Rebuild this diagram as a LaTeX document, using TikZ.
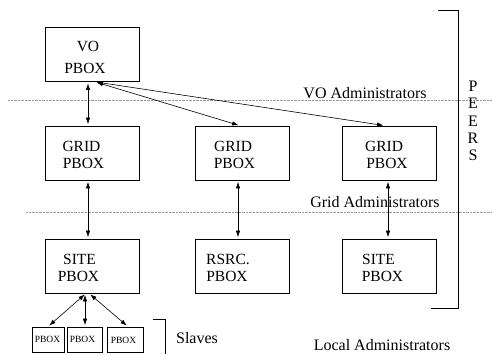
\documentclass[tikz,border=0pt]{standalone}
\usepackage{fontspec}
\setmainfont{Liberation Serif}
\usetikzlibrary{arrows.meta,positioning}
\begin{document}
\begin{tikzpicture}[x=1pt,y=-1pt,
  pbox/.style={draw,line width=0.7pt,minimum width=94pt,minimum height=54pt,inner sep=0pt},
  sbox/.style={draw,line width=0.7pt,minimum height=25pt,inner sep=0pt},
  btxt/.style={font=\fontsize{15.5}{16}\selectfont,inner sep=0pt,anchor=base},
  stxt/.style={font=\fontsize{9.5}{10}\selectfont,inner sep=0pt,anchor=base},
  ltxt/.style={font=\fontsize{16}{17}\selectfont,inner sep=0pt,anchor=base},
  dline/.style={gray!80,line width=0.6pt,dash pattern=on 0.6pt off 0.8pt},
  link/.style={{Latex[length=6.5pt,width=4.4pt]}-{Latex[length=6.5pt,width=4.4pt]},line width=0.6pt,shorten <=1.5pt,shorten >=1.5pt},
  brk/.style={line width=0.7pt}]
\useasboundingbox (0,0) rectangle (492,354);
% boxes
\node[pbox] (vo) at (92,54.5) {};
\node[pbox] (gridL) at (92,153) {};
\node[pbox] (gridM) at (242.5,153) {};
\node[pbox] (gridR) at (389,153) {};
\node[pbox] (siteL) at (92,266) {};
\node[pbox] (rsrc) at (242.5,266) {};
\node[pbox] (siteR) at (389,266) {};
\node[sbox,minimum width=32pt] (s1) at (48,339.5) {};
\node[sbox,minimum width=35pt] (s2) at (84.5,339.5) {};
\node[sbox,minimum width=36pt] (s3) at (125,339.5) {};
% box texts
\node[btxt] (vo1) at (88,51) {VO};
\node[btxt] (vo2) at (85,73) {PBOX};
\node[btxt] (gl1) at (81.5,151) {GRID};
\node[btxt] (gl2) at (83.5,168) {PBOX};
\node[btxt] (gm1) at (233,151) {GRID};
\node[btxt] (gm2) at (234.5,168) {PBOX};
\node[btxt] (gr1) at (384,151) {GRID};
\node[btxt] (gr2) at (387,168) {PBOX};
\node[btxt] (sl1) at (79.5,264) {SITE};
\node[btxt] (sl2) at (78.5,281) {PBOX};
\node[btxt] (rs1) at (228,264) {RSRC.};
\node[btxt] (rs2) at (227,281) {PBOX};
\node[btxt] (sr1) at (378.5,264) {SITE};
\node[btxt] (sr2) at (382.5,281) {PBOX};
\node[stxt] (st1) at (47.5,342) {PBOX};
\node[stxt] (st2) at (82.5,342) {PBOX};
\node[stxt] (st3) at (123.5,343.5) {PBOX};
% dotted separators
\coordinate (d1a) at (8,100); \coordinate (d1b) at (492,100);
\coordinate (d2a) at (26,212); \coordinate (d2b) at (492,212);
\draw[dline] (d1a) -- (d1b);
\draw[dline] (d2a) -- (d2b);
% labels
\node[ltxt] (voadm) at (365,98) {VO Administrators};
\node[ltxt] (gradm) at (375,207) {Grid Administrators};
\node[ltxt] (slaves) at (197,343) {Slaves};
\node[ltxt] (locadm) at (382,350) {Local Administrators};
\node[font=\fontsize{16}{17.3}\selectfont,align=center,inner sep=0pt] (peers) at (473,121) {P\\E\\E\\R\\S};
% brackets
\coordinate (pb1) at (438,10); \coordinate (pb2) at (458,10);
\coordinate (pb3) at (458,308); \coordinate (pb4) at (431,308);
\draw[brk] (pb1) -- (pb2) -- (pb3) -- (pb4);
\coordinate (sb1) at (153,319.5); \coordinate (sb2) at (165,319.5);
\coordinate (sb3) at (165,354);
\draw[brk] (sb1) -- (sb2) -- (sb3);
% connectors
\draw[link] ([xshift=-4pt]vo.south) -- ([xshift=-4pt]gridL.north);
\draw[link] ([xshift=3pt]vo.south) -- ([xshift=-2.5pt]gridM.north);
\draw[link] ([xshift=3pt]vo.south) -- ([xshift=-4pt]gridR.north);
\draw[link] ([xshift=-4pt]gridL.south) -- ([xshift=-4pt]siteL.north);
\draw[link] ([xshift=-4.5pt]gridM.south) -- ([xshift=-4.5pt]rsrc.north);
\draw[link] ([xshift=-1pt]gridR.south) -- ([xshift=-1pt]siteR.north);
\draw[link] ([xshift=-6pt]siteL.south) -- (s1.north);
\draw[link] ([xshift=-7pt]siteL.south) -- ([xshift=0.5pt]s2.north);
\draw[link] ([xshift=-3pt]siteL.south) -- ([xshift=3pt]s3.north);
\end{tikzpicture}
\end{document}
